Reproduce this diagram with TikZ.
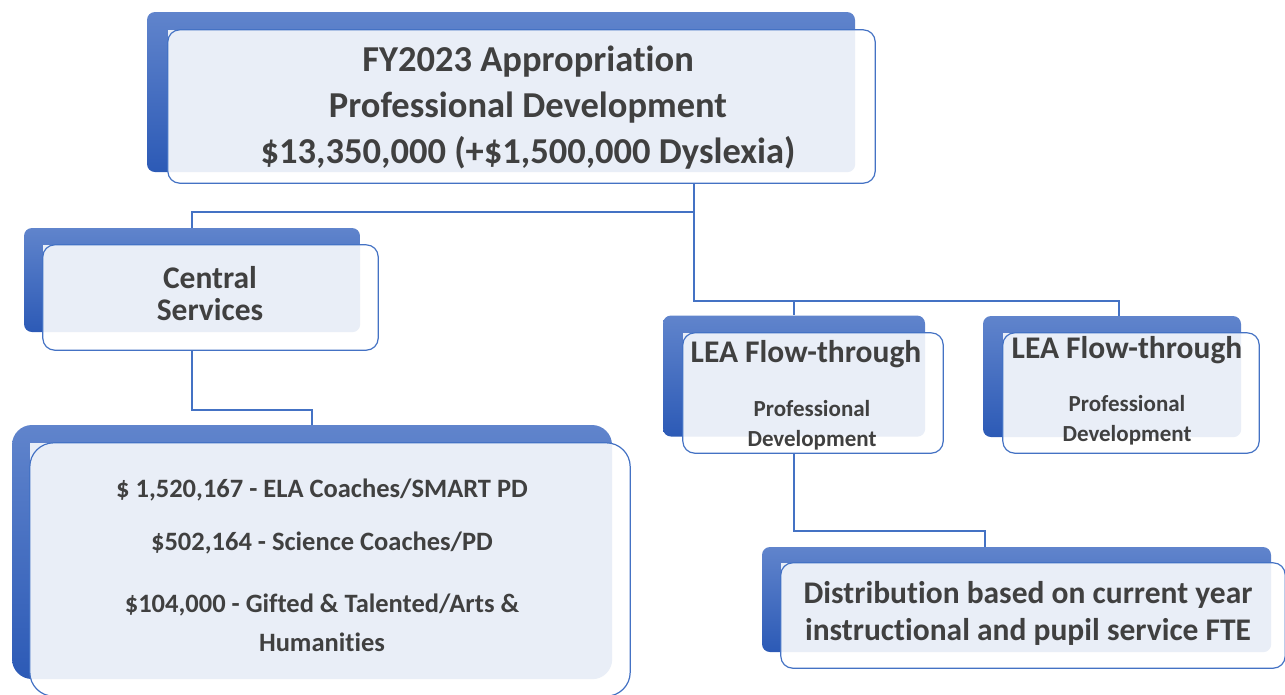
\documentclass[tikz,border=0pt]{standalone}
\usepackage{fontspec}
\setmainfont{Carlito}[Ligatures=NoCommon]
\usetikzlibrary{backgrounds}
\definecolor{backtop}{RGB}{96,132,204}
\definecolor{backbot}{RGB}{44,90,182}
\definecolor{paleblue}{RGB}{233,238,247}
\definecolor{lineblue}{RGB}{68,114,196}
\definecolor{textgrey}{RGB}{64,64,64}
\begin{document}
\begin{tikzpicture}[x=1pt,y=-1pt,
  backbox/.style={top color=backtop, bottom color=backbot, draw=none, inner sep=0pt, rounded corners=8pt},
  frontbox/.style={fill=white, draw=none, inner sep=0pt},
  boxline/.style={draw=lineblue, line width=1.2pt},
  boxtext/.style={font=\bfseries, text=textgrey, align=center, inner sep=0pt},
  link/.style={draw=lineblue, line width=1.5pt}]
\useasboundingbox (0,0) rectangle (1285,694);
% back boxes and front boxes
\node[backbox, minimum width=708, minimum height=160] (topB) at (501,92) {};
\node[frontbox, minimum width=707, minimum height=153] (topF) at (521.5,106.5) {};
\node[backbox, minimum width=336, minimum height=104] (centralB) at (192,280) {};
\node[frontbox, minimum width=335, minimum height=105] (centralF) at (210.5,297.5) {};
\node[backbox, rounded corners=20pt, minimum width=600, minimum height=254] (detailsB) at (312,552) {};
\node[frontbox, minimum width=600, minimum height=253] (detailsF) at (330,569.5) {};
\node[backbox, minimum width=262, minimum height=121] (leaAB) at (794,376) {};
\node[frontbox, minimum width=260, minimum height=120] (leaAF) at (813,393) {};
\node[backbox, minimum width=258, minimum height=121] (leaBB) at (1112,376.5) {};
\node[frontbox, minimum width=256, minimum height=120] (leaBF) at (1131,393) {};
\node[backbox, minimum width=509, minimum height=105] (distB) at (1016.5,599.5) {};
\node[frontbox, minimum width=504, minimum height=105] (distF) at (1033,615.5) {};
% pale overlap
\begin{scope}
\clip[rounded corners=8pt] (topB.south west) rectangle (topB.north east);
\fill[paleblue] (topF.south west) rectangle (topF.north east);
\end{scope}
\begin{scope}
\clip[rounded corners=8pt] (centralB.south west) rectangle (centralB.north east);
\fill[paleblue] (centralF.south west) rectangle (centralF.north east);
\end{scope}
\begin{scope}
\clip[rounded corners=20pt] (detailsB.south west) rectangle (detailsB.north east);
\fill[paleblue] (detailsF.south west) rectangle (detailsF.north east);
\end{scope}
\begin{scope}
\clip[rounded corners=8pt] (leaAB.south west) rectangle (leaAB.north east);
\fill[paleblue] (leaAF.south west) rectangle (leaAF.north east);
\end{scope}
\begin{scope}
\clip[rounded corners=8pt] (leaBB.south west) rectangle (leaBB.north east);
\fill[paleblue] (leaBF.south west) rectangle (leaBF.north east);
\end{scope}
\begin{scope}
\clip[rounded corners=8pt] (distB.south west) rectangle (distB.north east);
\fill[paleblue] (distF.south west) rectangle (distF.north east);
\end{scope}
% front outlines
\draw[boxline, rounded corners=12pt] (topF.south west) rectangle (topF.north east);
\draw[boxline, rounded corners=12pt] (centralF.south west) rectangle (centralF.north east);
\draw[boxline, rounded corners=24pt] (detailsF.south west) rectangle (detailsF.north east);
\draw[boxline, rounded corners=12pt] (leaAF.south west) rectangle (leaAF.north east);
\draw[boxline, rounded corners=12pt] (leaBF.south west) rectangle (leaBF.north east);
\draw[boxline, rounded corners=12pt] (distF.south west) rectangle (distF.north east);
% texts
\node[boxtext, font=\bfseries\fontsize{36.5}{46}\selectfont] (topT) at (528,107.5)
  {FY2023 Appropriation\\Professional Development\\\$13,350,000 (+\$1,500,000 Dyslexia)};
\node[boxtext, font=\bfseries\fontsize{31.5}{32}\selectfont] (centralT) at (210,294) {Central\\Services};
\node[boxtext, font=\bfseries\fontsize{26.5}{39}\selectfont] (detailsT) at (322,565)
  {\$ 1,520,167 - ELA Coaches/SMART PD\\[14pt]\$502,164 - Science Coaches/PD\\[23pt]\$104,000 - Gifted \& Talented/Arts \&\\Humanities};
\node[boxtext, font=\bfseries\fontsize{31.5}{30}\selectfont] (leaAT) at (806,354) {LEA Flow-through};
\node[boxtext, font=\bfseries\fontsize{23}{30}\selectfont] (leaAS) at (812,425) {Professional\\Development};
\node[boxtext, font=\bfseries\fontsize{31.5}{30}\selectfont] (leaBT) at (1127,350) {LEA Flow-through};
\node[boxtext, font=\bfseries\fontsize{23}{30}\selectfont] (leaBS) at (1127,420) {Professional\\Development};
\node[boxtext, font=\bfseries\fontsize{31.5}{37}\selectfont] (distT) at (1028,613.5)
  {Distribution based on current year\\instructional and pupil service FTE};
% connectors
\coordinate (split) at (694,212);
\coordinate (leasplit) at (694,301);
\coordinate (csjoin) at (192,410);
\coordinate (leajoin) at (794,531);
\coordinate (distin) at (985,547);
\coordinate (leaBin) at (1119,316);
\begin{scope}[on background layer]
\draw[link] (topF.south -| split) -- (split) -| (centralB.north);
\draw[link] (split) -- (leasplit) -| (leaAB.north);
\draw[link] (leasplit) -| (leaBin);
\draw[link] (centralB.south) -- (csjoin) -| (detailsB.north);
\draw[link] (leaAB.south) -- (leajoin) -| (distin);
\end{scope}
\end{tikzpicture}
\end{document}
